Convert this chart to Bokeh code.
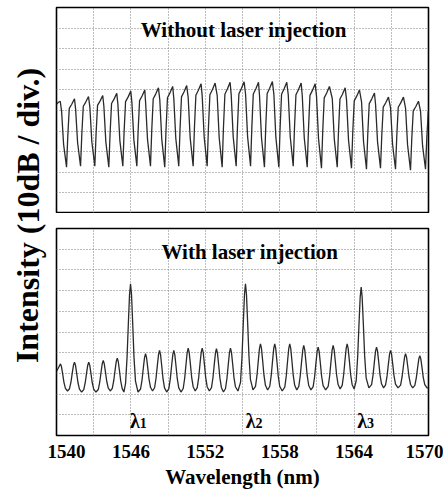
from bokeh.plotting import figure
from bokeh.layouts import row, column
from bokeh.models import FixedTicker
from bokeh.core.properties import value
from bokeh.embed import file_html
from bokeh.resources import INLINE

# ---------------- data (levels in divisions, 10 dB/div) -------------
# Top panel: "Without laser injection"
top_dip_wl = [1540.81, 1541.94, 1543.09, 1544.22, 1545.35, 1546.48, 1547.58, 1548.73,
              1549.86, 1551.02, 1552.15, 1553.36, 1554.49, 1555.65, 1556.77, 1557.93,
              1559.09, 1560.22, 1561.37, 1562.64, 1563.79, 1565.00, 1566.13, 1567.34,
              1568.55, 1569.76]
top_dip_lvl = [2.25, 2.30, 2.30, 2.25, 2.30, 2.30, 2.30, 2.25, 2.30, 2.30, 2.30, 2.25, 2.30,
               2.30, 2.25, 2.25, 2.30, 2.25, 2.20, 2.25, 2.20, 2.15, 2.20, 2.15, 2.10, 2.15]
top_peak_lvl = [5.57, 5.68, 5.73, 5.84, 5.94, 6.00, 6.10, 6.17, 6.21, 6.30, 6.33, 6.37, 6.39,
                6.37, 6.41, 6.37, 6.33, 6.30, 6.17, 6.10, 6.00, 5.85, 5.65, 5.65, 5.45, 5.40]
top_start_wl = [1540.00, 1540.15, 1540.30]
top_start_lvl = [5.30, 5.40, 5.45]

# Bottom panel: "With laser injection"
bot_peak_wl = [1540.32, 1541.45, 1542.60, 1543.77, 1544.90, 1545.97, 1547.18, 1548.31,
               1549.46, 1550.62, 1551.75, 1552.90, 1554.03, 1555.24, 1556.45, 1557.60,
               1558.81, 1559.94, 1561.10, 1562.31, 1563.44, 1564.57, 1565.81, 1566.94,
               1568.15, 1569.30]
bot_peak_lvl = [3.46, 3.54, 3.54, 3.62, 3.74, 7.33, 3.95, 4.11, 4.11, 4.22, 4.22, 4.19, 4.22,
                7.33, 4.43, 4.43, 4.43, 4.35, 4.27, 4.35, 4.43, 7.17, 4.27, 4.11, 3.95, 3.86]
bot_min_lvl = [2.15, 2.10, 2.10, 2.15, 2.10, 2.10, 2.15, 2.10, 2.10, 2.15, 2.15, 2.10, 2.15,
               2.20, 2.20, 2.15, 2.20, 2.20, 2.20, 2.25, 2.25, 2.30, 2.30, 2.30, 2.30, 2.30]
bot_start_wl = [1540.00, 1540.18]
bot_start_lvl = [3.10, 3.30]

x_ticks = [1540, 1546, 1552, 1558, 1564, 1570]
x_grid = [1543, 1546, 1549, 1552, 1555, 1558, 1561, 1564, 1567]
y_grid = [1, 2, 3, 4, 5, 6, 7, 8, 9]

titles = ["Without laser injection", "With laser injection"]
title_wl = [1555.1, 1555.6]
title_lvl = [8.9, 8.86]

lam_wl = [1546.72, 1556.05, 1565.05]
lam_sub = ["1", "2", "3"]

x_label = "Wavelength (nm)"
y_label = "Intensity (10dB / div.)"

FONT = value("Liberation Serif")
X0, X1 = 1540, 1570


def clip_right(xs, ys):
    """cut the trace at the right edge of the frame"""
    ox, oy = [], []
    for i, (x, y) in enumerate(zip(xs, ys)):
        if x <= X1:
            ox.append(x)
            oy.append(y)
        else:
            xp, yp = xs[i - 1], ys[i - 1]
            t = (X1 - xp) / (x - xp)
            ox.append(X1)
            oy.append(yp + t * (y - yp))
            break
    return ox, oy


# ---------------- build traces ----------------
tx = list(top_start_wl)
ty = list(top_start_lvl)
p_prev = top_start_lvl[-1]
d0, b0 = top_dip_wl[0], top_dip_lvl[0]
tx += [d0 - 0.40, d0 - 0.24]
ty += [b0 + 0.85 * (p_prev - b0), b0 + 0.35 * (p_prev - b0)]
for k in range(len(top_dip_wl)):
    d, a, p = top_dip_wl[k], top_dip_lvl[k], top_peak_lvl[k]
    tx += [d, d + 0.10, d + 0.22, d + 0.42, d + 0.64]
    ty += [a, a + 0.45 * (p - a), a + 0.86 * (p - a), a + 0.92 * (p - a), p]
    if k + 1 < len(top_dip_wl):
        dn, b = top_dip_wl[k + 1], top_dip_lvl[k + 1]
        tx += [dn - 0.40, dn - 0.24]
        ty += [b + 0.85 * (p - b), b + 0.35 * (p - b)]
tx, ty = clip_right(tx, ty)

bx = list(bot_start_wl)
by = list(bot_start_lvl)
n = len(bot_peak_wl)
for k in range(n):
    pk, P, m = bot_peak_wl[k], bot_peak_lvl[k], bot_min_lvl[k]
    bx.append(pk)
    by.append(P)
    bx += [pk + 0.08, pk + 0.18, pk + 0.28, pk + 0.40]
    by += [m + 0.90 * (P - m), m + 0.62 * (P - m), m + 0.32 * (P - m), m + 0.10 * (P - m)]
    if k + 1 < n:
        pn, Q = bot_peak_wl[k + 1], bot_peak_lvl[k + 1]
        mid = 0.5 * (pk + pn)
        bx += [mid, pn - 0.40, pn - 0.28, pn - 0.18, pn - 0.08]
        by += [m, m + 0.08 * (Q - m), m + 0.32 * (Q - m), m + 0.62 * (Q - m), m + 0.90 * (Q - m)]
    else:
        bx += [pk + 0.58, 1570.2]
        by += [m, m]
bx, by = clip_right(bx, by)

# ---------------- figures ----------------
def panel(height, top_border, bottom_border):
    p = figure(width=396, height=height, x_range=(X0, X1), y_range=(0, 10),
               output_backend="svg", toolbar_location=None,
               min_border_left=9, min_border_right=15,
               min_border_top=top_border, min_border_bottom=bottom_border)
    p.yaxis.visible = False
    p.outline_line_color = "black"
    p.outline_line_width = 1.6
    p.xgrid.ticker = FixedTicker(ticks=x_grid)
    p.ygrid.ticker = FixedTicker(ticks=y_grid)
    for g in (p.xgrid, p.ygrid):
        g.grid_line_color = "#7a7a7a"
        g.grid_line_dash = "1 2"
        g.grid_line_width = 1
    p.background_fill_color = "white"
    p.border_fill_color = "white"
    return p


top = panel(213, 7, 0)
top.xaxis.visible = False
top.line(tx, ty, line_color="#2a2a2a", line_width=1.3)
top.text(x=[title_wl[0]], y=[title_lvl[0]], text=[titles[0]], text_font=FONT,
         text_font_style="bold", text_font_size="21px", text_align="center",
         text_baseline="alphabetic", text_color="black")

bot = panel(278, 15, 56)
bot.line(bx, by, line_color="#2a2a2a", line_width=1.3)
bot.text(x=[title_wl[1]], y=[title_lvl[1]], text=[titles[1]], text_font=FONT,
         text_font_style="bold", text_font_size="21px", text_align="center",
         text_baseline="alphabetic", text_color="black")
bot.text(x=lam_wl, y=[0.72] * 3, text=["λ"] * 3, text_font=FONT, text_font_style="bold",
         text_font_size="20px", text_align="right", text_baseline="alphabetic",
         text_color="black")
bot.text(x=lam_wl, y=[0.60] * 3, text=lam_sub, text_font=FONT, text_font_style="bold",
         text_font_size="14px", text_align="left", text_baseline="alphabetic",
         text_color="black")
ax = bot.xaxis[0]
ax.ticker = FixedTicker(ticks=x_ticks)
ax.axis_line_color = None
ax.major_tick_line_color = None
ax.minor_tick_line_color = None
ax.major_tick_out = 0
ax.major_tick_in = 0
ax.minor_tick_out = 0
ax.minor_tick_in = 0
ax.major_label_standoff = 9
ax.major_label_text_font = "Liberation Serif"
ax.major_label_text_font_style = "bold"
ax.major_label_text_font_size = "19px"
ax.major_label_text_color = "black"
ax.axis_label = x_label
ax.axis_label_standoff = 4
ax.axis_label_text_font = "Liberation Serif"
ax.axis_label_text_font_style = "bold"
ax.axis_label_text_font_size = "21px"
ax.axis_label_text_color = "black"

lab = figure(width=47, height=491, x_range=(0, 47), y_range=(0, 491),
             output_backend="svg", toolbar_location=None,
             min_border=0, min_border_left=0, min_border_right=0,
             min_border_top=0, min_border_bottom=0)
lab.axis.visible = False
lab.grid.visible = False
lab.outline_line_color = None
lab.text(x=[27], y=[491 - 215], text=[y_label], text_font=FONT, text_font_style="bold",
         text_font_size="32px", text_align="center", text_baseline="middle",
         angle=1.5707963, text_color="black")

layout = row(lab, column(top, bot, spacing=0), spacing=0)
open("out.html", "w").write(file_html(layout, INLINE))
